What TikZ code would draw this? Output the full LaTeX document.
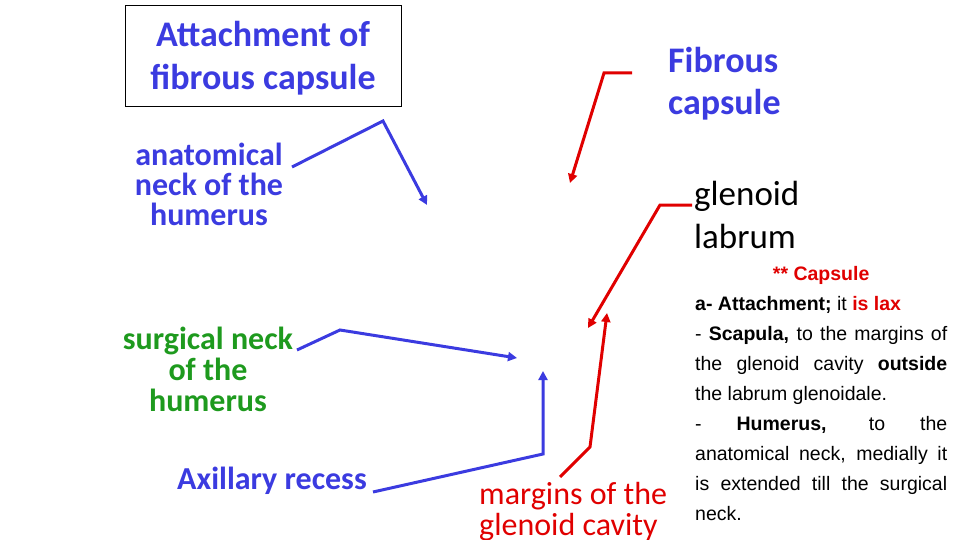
\documentclass[tikz,border=0pt]{standalone}
\usepackage{fontspec}
\setmainfont{Carlito}
\newfontfamily\arialf{Liberation Sans}
\usetikzlibrary{arrows.meta}
\definecolor{lblue}{HTML}{3B3BE0}
\definecolor{lred}{HTML}{E00000}
\definecolor{lgreen}{HTML}{1E9A1E}
\begin{document}
\begin{tikzpicture}[x=1pt,y=-1pt,
  lbl/.style={align=center,font=\fontsize{32}{30}\selectfont\bfseries,inner sep=0pt},
  bar/.style={line width=3pt,line join=miter},
  arr/.style={bar,-{Triangle[length=9pt,width=9pt]}}]
\useasboundingbox (0,0) rectangle (960,540);
\node[draw,line width=0.8pt,minimum width=276pt,minimum height=101pt,anchor=north west,inner sep=0pt] (box) at (125,5) {};
\node[lbl,text=lblue,font=\fontsize{36}{43}\selectfont\bfseries] (title) at (263,58) {Attachment of\\fibrous capsule};
\node[lbl,text=lblue,align=left,anchor=west,font=\fontsize{36}{42}\selectfont\bfseries] (fib) at (668,84) {Fibrous\\capsule};
\node[lbl,text=lblue] (anat) at (209,184) {anatomical\\neck of the\\humerus};
\node[lbl,text=black,font=\fontsize{35}{43}\selectfont,align=left,anchor=west] (glen) at (694,215) {glenoid\\labrum};
\node[lbl,text=lgreen,font=\fontsize{32}{31}\selectfont\bfseries] (surg) at (208,369) {surgical neck\\of the\\humerus};
\node[lbl,text=lblue] (axil) at (272,481) {Axillary recess};
\node[lbl,text=lred,font=\fontsize{32}{31}\selectfont,anchor=north west,align=left] (marg) at (479,482) {margins of the\\glenoid cavity};
\node[anchor=north west,inner sep=0pt,text width=252pt,align=justify,font=\arialf\fontsize{19.5}{30}\selectfont] (txt) at (695,266) {%
\hspace*{\fill}\textcolor{lred}{\textbf{** Capsule}}\hspace*{\fill}\\
\textbf{a- Attachment;} it \textcolor{lred}{\textbf{is lax}}\\
- \textbf{Scapula,} to the margins of\linebreak
the glenoid cavity \textbf{outside}\linebreak
the labrum glenoidale.\\
- \textbf{Humerus,} to the\linebreak
anatomical neck, medially it\linebreak
is extended till the surgical\linebreak
neck.};
\coordinate (a1) at (292,167); \coordinate (a2) at (383,121); \coordinate (a3) at (427,205);
\draw[arr,lblue] (a1) -- (a2) -- (a3);
\coordinate (f1) at (632,73); \coordinate (f2) at (604,73); \coordinate (f3) at (570,183);
\draw[arr,lred] (f1) -- (f2) -- (f3);
\coordinate (g1) at (692,205); \coordinate (g2) at (660,205); \coordinate (g3) at (588,328);
\draw[arr,lred] (g1) -- (g2) -- (g3);
\coordinate (s1) at (297,350); \coordinate (s2) at (340,330); \coordinate (s3) at (517,358);
\draw[arr,lblue] (s1) -- (s2) -- (s3);
\coordinate (x1) at (373,492); \coordinate (x2) at (543,454); \coordinate (x3) at (543,371);
\draw[arr,lblue] (x1) -- (x2) -- (x3);
\coordinate (m1) at (560,477); \coordinate (m2) at (590,447); \coordinate (m3) at (607,313);
\draw[arr,lred] (m1) -- (m2) -- (m3);
\end{tikzpicture}
\end{document}
